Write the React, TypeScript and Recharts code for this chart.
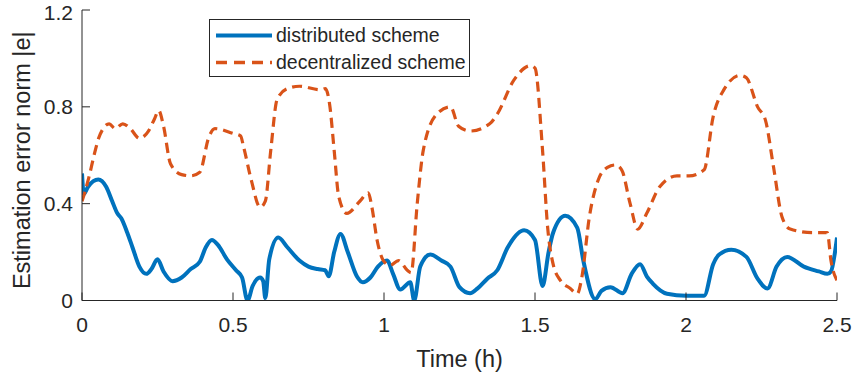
import React from 'react';
import { LineChart, Line, XAxis, YAxis, Legend } from 'recharts';

// Estimation error norm over time (hours) for the two estimation schemes.
const distributedTime = [
  0.0, 0.006, 0.02, 0.054, 0.08, 0.1, 0.117, 0.13, 0.15, 0.167, 0.19, 0.213, 0.23, 0.25, 0.27, 0.3,
  0.33, 0.36, 0.39, 0.41, 0.43, 0.45, 0.48, 0.51, 0.53, 0.548, 0.565, 0.59, 0.6, 0.607, 0.62, 0.65,
  0.68, 0.72, 0.75, 0.78, 0.805, 0.817, 0.835, 0.856, 0.88, 0.91, 0.93, 0.955, 0.98, 1.01, 1.03,
  1.054, 1.087, 1.1, 1.12, 1.153, 1.19, 1.22, 1.25, 1.285, 1.31, 1.342, 1.375, 1.41, 1.464, 1.5,
  1.525, 1.545, 1.56, 1.6, 1.64, 1.66, 1.7, 1.72, 1.75, 1.79, 1.82, 1.848, 1.87, 1.89, 1.937, 2.0,
  2.06, 2.09, 2.11, 2.15, 2.2, 2.237, 2.27, 2.3, 2.335, 2.39, 2.44, 2.468, 2.48, 2.5,
];
const distributedError = [
  0.525, 0.44, 0.47, 0.5, 0.47, 0.41, 0.36, 0.34, 0.28, 0.22, 0.14, 0.11, 0.13, 0.17, 0.12, 0.08,
  0.095, 0.13, 0.16, 0.22, 0.25, 0.23, 0.17, 0.125, 0.095, 0.0, 0.06, 0.095, 0.08, 0.01, 0.17, 0.26,
  0.22, 0.165, 0.14, 0.13, 0.125, 0.1, 0.2, 0.275, 0.2, 0.1, 0.075, 0.095, 0.14, 0.165, 0.11,
  0.045, 0.075, 0.0, 0.14, 0.19, 0.165, 0.14, 0.055, 0.03, 0.05, 0.09, 0.125, 0.22, 0.29, 0.25,
  0.06, 0.2, 0.28, 0.35, 0.3, 0.165, 0.005, 0.04, 0.055, 0.03, 0.11, 0.15, 0.1, 0.07, 0.028, 0.02,
  0.02, 0.15, 0.19, 0.21, 0.18, 0.09, 0.05, 0.14, 0.18, 0.14, 0.12, 0.11, 0.12, 0.26,
];

const decentralizedTime = [
  0.0, 0.01, 0.025, 0.04, 0.055, 0.07, 0.09, 0.11, 0.135, 0.16, 0.19, 0.22, 0.24, 0.254, 0.27, 0.293,
  0.33, 0.36, 0.39, 0.42, 0.44, 0.5, 0.525, 0.535, 0.56, 0.59, 0.607, 0.625, 0.646, 0.68, 0.72, 0.79,
  0.806, 0.82, 0.835, 0.85, 0.877, 0.92, 0.948, 0.96, 0.977, 0.998, 1.02, 1.048, 1.077, 1.09, 1.11,
  1.13, 1.175, 1.22, 1.247, 1.285, 1.35, 1.375, 1.43, 1.485, 1.5, 1.525, 1.542, 1.56, 1.584, 1.617,
  1.64, 1.655, 1.68, 1.71, 1.74, 1.766, 1.787, 1.815, 1.84, 1.87, 1.913, 1.97, 2.01, 2.06, 2.09,
  2.125, 2.18, 2.2, 2.237, 2.263, 2.29, 2.318, 2.345, 2.42, 2.468, 2.48, 2.5,
];
const decentralizedError = [
  0.41, 0.45, 0.52, 0.6, 0.67, 0.71, 0.73, 0.71, 0.73, 0.71, 0.67, 0.7, 0.75, 0.785, 0.72, 0.565,
  0.52, 0.515, 0.53, 0.675, 0.71, 0.69, 0.68, 0.635, 0.5, 0.385, 0.41, 0.62, 0.83, 0.875, 0.885, 0.87,
  0.875, 0.81, 0.62, 0.43, 0.36, 0.41, 0.445, 0.385, 0.25, 0.165, 0.145, 0.165, 0.125, 0.115, 0.4,
  0.62, 0.77, 0.8, 0.72, 0.7, 0.73, 0.77, 0.91, 0.97, 0.96, 0.62, 0.3, 0.15, 0.083, 0.05,
  0.028, 0.095, 0.345, 0.5, 0.55, 0.56, 0.54, 0.4, 0.295, 0.36, 0.47, 0.515, 0.515, 0.54, 0.76,
  0.87, 0.93, 0.92, 0.8, 0.745, 0.55, 0.345, 0.295, 0.28, 0.28, 0.165, 0.083,
];

const timeTicks = [0, 0.5, 1, 1.5, 2, 2.5];
const errorTicks = [0, 0.4, 0.8, 1.2];

const seriesNames = ['distributed scheme', 'decentralized scheme'];

const distributed = distributedTime.map((t, i) => ({ t, e: distributedError[i] }));
const decentralized = decentralizedTime.map((t, i) => ({ t, e: decentralizedError[i] }));

const BLUE = '#0072BD';
const ORANGE = '#D95319';
const INK = '#262626';
const FONT = '"Liberation Sans", Arial, Helvetica, sans-serif';

const tickStyle = { fill: INK, fontSize: 21, fontFamily: FONT };

function LegendBox() {
  const rows = [
    { name: seriesNames[0], color: BLUE, dash: undefined, width: 4 },
    { name: seriesNames[1], color: ORANGE, dash: '11 7', width: 3.5 },
  ];
  return (
    <div
      style={{
        width: 261,
        height: 58,
        border: `1px solid ${INK}`,
        background: '#fff',
        boxSizing: 'border-box',
        paddingTop: 2,
      }}
    >
      {rows.map((r) => (
        <div key={r.name} style={{ display: 'flex', alignItems: 'center', height: 27 }}>
          <svg width={66} height={27} style={{ flex: 'none' }}>
            <line
              x1={6}
              x2={62}
              y1={13.5}
              y2={13.5}
              stroke={r.color}
              strokeWidth={r.width}
              strokeDasharray={r.dash}
            />
          </svg>
          <span style={{ fontFamily: FONT, fontSize: 19.5, color: INK, whiteSpace: 'nowrap' }}>{r.name}</span>
        </div>
      ))}
    </div>
  );
}

function YLabel(props: any) {
  const vb = props.viewBox || { x: 0, y: 0, width: 0, height: 0 };
  const cx = vb.x + 22;
  const cy = vb.y + vb.height / 2 + 5;
  return (
    <text
      x={cx}
      y={cy}
      transform={`rotate(-90 ${cx} ${cy})`}
      textAnchor="middle"
      dominantBaseline="central"
      fill={INK}
      fontSize={23.5}
      fontFamily={FONT}
    >
      Estimation error norm |e|
    </text>
  );
}

export default function App() {
  return (
    <div style={{ position: 'absolute', left: 0, top: 0, background: '#fff' }}>
      <LineChart width={854} height={375} margin={{ top: 10, right: 17, bottom: 0, left: 0 }}>
        <XAxis
          dataKey="t"
          type="number"
          domain={[0, 2.5]}
          ticks={timeTicks}
          allowDataOverflow
          height={74.5}
          tickSize={-8}
          tickMargin={25}
          stroke={INK}
          tick={tickStyle}
          label={{ value: 'Time (h)', position: 'insideBottom', offset: 8, fill: INK, fontSize: 23.5, fontFamily: FONT }}
        />
        <XAxis
          xAxisId="top"
          dataKey="t"
          type="number"
          orientation="top"
          domain={[0, 2.5]}
          ticks={timeTicks}
          height={0}
          tickSize={-8}
          tick={false}
          stroke={INK}
        />
        <YAxis
          type="number"
          domain={[0, 1.2]}
          ticks={errorTicks}
          allowDataOverflow
          width={82}
          tickSize={-8}
          tickMargin={17}
          stroke={INK}
          tick={tickStyle}
          label={<YLabel />}
        />
        <YAxis
          yAxisId="right"
          type="number"
          orientation="right"
          domain={[0, 1.2]}
          ticks={errorTicks}
          width={0}
          tickSize={-8}
          tick={false}
          stroke={INK}
        />
        <Legend
          layout="vertical"
          align="center"
          verticalAlign="middle"
          wrapperStyle={{ left: 209, top: 19, width: 261, height: 58 }}
          content={() => <LegendBox />}
        />
        <Line
          data={distributed}
          dataKey="e"
          name={seriesNames[0]}
          type="monotone"
          stroke={BLUE}
          strokeWidth={4}
          dot={false}
          activeDot={false}
          isAnimationActive={false}
        />
        <Line
          data={decentralized}
          dataKey="e"
          name={seriesNames[1]}
          type="monotone"
          stroke={ORANGE}
          strokeWidth={3.2}
          strokeDasharray="10 6"
          dot={false}
          activeDot={false}
          isAnimationActive={false}
        />
      </LineChart>
    </div>
  );
}
